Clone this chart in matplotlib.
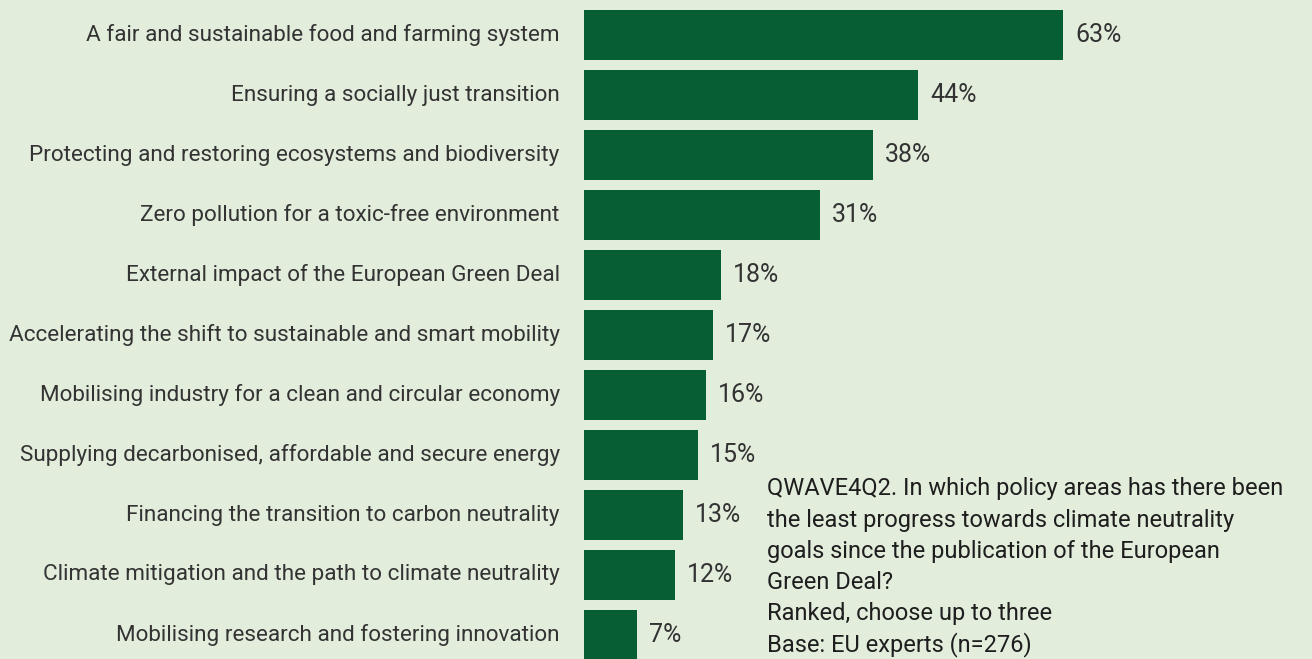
import matplotlib.pyplot as plt

categories = [
    'A fair and sustainable food and farming system',
    'Ensuring a socially just transition',
    'Protecting and restoring ecosystems and biodiversity',
    'Zero pollution for a toxic-free environment',
    'External impact of the European Green Deal',
    'Accelerating the shift to sustainable and smart mobility',
    'Mobilising industry for a clean and circular economy',
    'Supplying decarbonised, affordable and secure energy',
    'Financing the transition to carbon neutrality',
    'Climate mitigation and the path to climate neutrality',
    'Mobilising research and fostering innovation',
]
values = [63, 44, 38, 31, 18, 17, 16, 15, 13, 12, 7]
note_lines = [
    'QWAVE4Q2. In which policy areas has there been',
    'the least progress towards climate neutrality',
    'goals since the publication of the European',
    'Green Deal?',
    'Ranked, choose up to three',
    'Base: EU experts (n=276)',
]

bg = '#e2eddc'
bar_color = '#075e34'
font = ['Roboto', 'DejaVu Sans']

fig = plt.figure(figsize=(13.12, 6.59), dpi=100, facecolor=bg)
# axes: left edge at bar start, index 0 at y=35px, pitch 60px
ax = fig.add_axes([584 / 1312, 0, 1 - 584 / 1312, 654 / 659])
ax.set_facecolor(bg)
ax.barh(range(len(values)), values, height=0.83, color=bar_color)
ax.set_xlim(0, (1312 - 584) / 7.6)
ax.set_ylim(10.4, -0.5)

for i, (cat, v) in enumerate(zip(categories, values)):
    ax.text(-3.2, i, cat, ha='right', va='center', fontsize=16.2,
            color='#333333', family=font)
    ax.text(v + 1.6, i, f'{v}%', ha='left', va='center', fontsize=18,
            color='#333333', family=font)

for s in ax.spines.values():
    s.set_visible(False)
ax.set_xticks([])
ax.set_yticks([])

for k, line in enumerate(note_lines):
    fig.text(767 / 1312, 1 - (489 + 31.2 * k) / 659, line, ha='left', va='center',
             fontsize=17, color='#1e1e1e', family=font)

fig.savefig('out.png', dpi=100, facecolor=bg)
